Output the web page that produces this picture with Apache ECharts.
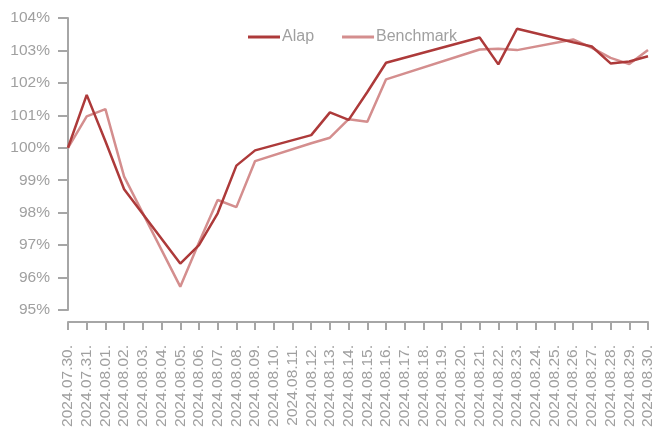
<!DOCTYPE html>
<html>
<head>
<meta charset="utf-8">
<script src="https://cdn.jsdelivr.net/npm/echarts@6/dist/echarts.min.js"></script>
<style>html,body{margin:0;padding:0;background:#fff}#c{width:656px;height:427px}</style>
</head>
<body>
<div id="c"></div>
<script>
var categories = ['2024.07.30.','2024.07.31.','2024.08.01.','2024.08.02.','2024.08.03.','2024.08.04.','2024.08.05.','2024.08.06.','2024.08.07.','2024.08.08.','2024.08.09.','2024.08.10.','2024.08.11.','2024.08.12.','2024.08.13.','2024.08.14.','2024.08.15.','2024.08.16.','2024.08.17.','2024.08.18.','2024.08.19.','2024.08.20.','2024.08.21.','2024.08.22.','2024.08.23.','2024.08.24.','2024.08.25.','2024.08.26.','2024.08.27.','2024.08.28.','2024.08.29.','2024.08.30.'];
var alap = [100.0, 101.63, 100.2, 98.72, null, null, 96.43, 97.0, 97.98, 99.45, 99.92, null, null, 100.39, 101.09, 100.86, 101.72, 102.62, null, null, null, null, 103.4, 102.57, 103.67, null, null, 103.25, 103.12, 102.6, 102.66, 102.82];
var benchmark = [100.0, 100.97, 101.19, 99.11, null, null, 95.72, 97.08, 98.39, 98.17, 99.59, null, null, 100.14, 100.31, 100.88, 100.8, 102.11, null, null, null, null, 103.03, 103.05, 103.01, null, null, 103.34, 103.08, 102.77, 102.58, 103.01];
var seriesNames = ['Alap', 'Benchmark'];
var yTicks = {min: 95, max: 104, interval: 1};

var gray = '#a6a6a6';
var txt = '#a0a0a0';
var font = 'Liberation Sans';
var chart = echarts.init(document.getElementById('c'), null, {renderer: 'canvas'});
chart.setOption({
  animation: false,
  textStyle: {fontFamily: font},
  grid: {left: 68, right: 8, top: 18, bottom: 117, containLabel: false, outerBoundsMode: 'none'},
  legend: {
    data: seriesNames,
    left: 243, top: 24,
    icon: 'rect', itemWidth: 32, itemHeight: 3, itemGap: 28,
    textStyle: {color: txt, fontSize: 16, fontFamily: font, padding: [0,0,0,-3]}
  },
  xAxis: {
    type: 'category', data: categories, boundaryGap: false, offset: 12,
    axisLine: {lineStyle: {color: gray, width: 2}},
    axisTick: {show: true, length: 8, alignWithLabel: true, lineStyle: {color: gray, width: 2}, interval: 0},
    axisLabel: {rotate: 90, interval: 0, color: txt, fontSize: 15.5, fontFamily: font, margin: 23}
  },
  yAxis: {
    type: 'value', min: yTicks.min, max: yTicks.max, interval: yTicks.interval,
    axisLine: {show: true, lineStyle: {color: gray, width: 2}},
    axisTick: {show: true, length: 10, lineStyle: {color: gray, width: 2}},
    splitLine: {show: false},
    axisLabel: {formatter: '{value}%', color: txt, fontSize: 15.5, fontFamily: font, margin: 18}
  },
  series: [
    {name: seriesNames[0], type: 'line', data: alap, connectNulls: true, showSymbol: false, symbol: 'none',
     lineStyle: {color: '#ad3a3a', width: 2.5}, itemStyle: {color: '#ad3a3a'}, z: 3},
    {name: seriesNames[1], type: 'line', data: benchmark, connectNulls: true, showSymbol: false, symbol: 'none',
     lineStyle: {color: '#d48e8e', width: 2.5}, itemStyle: {color: '#d48e8e'}, z: 2}
  ]
});
</script>
</body>
</html>
